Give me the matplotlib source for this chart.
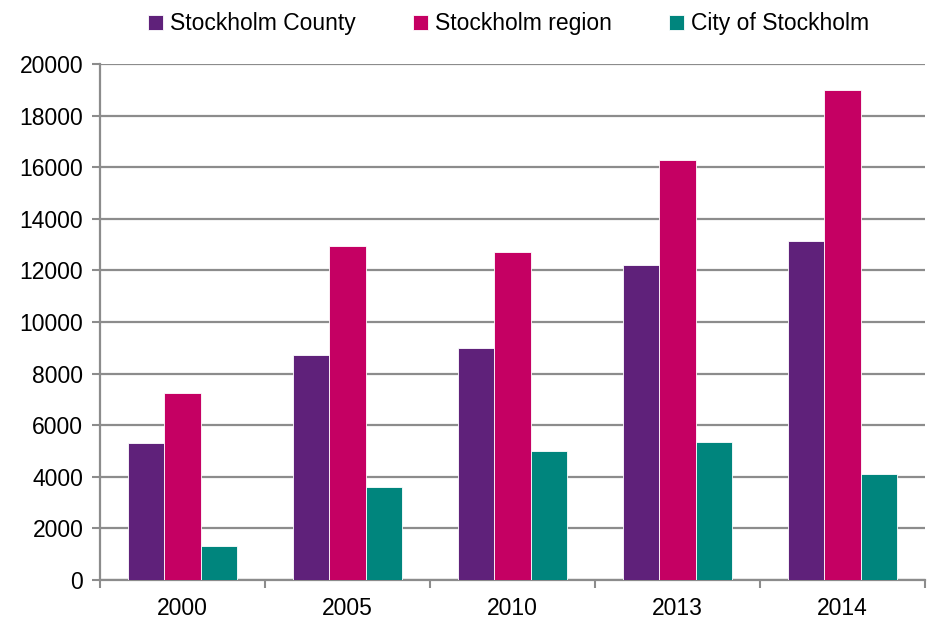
import numpy as np
import matplotlib
matplotlib.use('Agg')
import matplotlib.pyplot as plt
from matplotlib.ticker import FixedLocator

plt.rcParams['font.family'] = ['Liberation Sans', 'DejaVu Sans']

years = ['2000', '2005', '2010', '2013', '2014']
county = [5300, 8710, 9000, 12200, 13150]
region = [7240, 12950, 12720, 16260, 18990]
city = [1310, 3620, 4990, 5350, 4100]

series = [('Stockholm County', county, '#5F217A'),
          ('Stockholm region', region, '#C50063'),
          ('City of Stockholm', city, '#00857D')]

fig = plt.figure(figsize=(9.28, 6.21), dpi=100)
ax = fig.add_axes([100/928, 1-580/621, 825/928, 516/621])

x = np.arange(len(years))
w = 0.22
for i, (name, vals, col) in enumerate(series):
    ax.bar(x + (i-1)*w, vals, w, color=col, edgecolor='white', linewidth=0.6,
           label=name, zorder=3)

ax.set_ylim(0, 20000)
ax.set_xlim(-0.5, len(years)-0.5)
ax.set_yticks(np.arange(0, 20001, 2000))
ax.yaxis.grid(True, color='#8c8c8c', linewidth=1.6, zorder=0)
ax.set_axisbelow(True)

ax.set_xticks(x)
ax.set_xticklabels(years)
ax.xaxis.set_minor_locator(FixedLocator(np.arange(-0.5, len(years), 1)))
ax.tick_params(axis='x', which='major', length=0, pad=12, labelsize=16.5)
ax.tick_params(axis='x', which='minor', length=6, width=1.5, color='#8c8c8c')
ax.tick_params(axis='y', length=6, width=1.5, color='#8c8c8c', labelsize=16.5, pad=6)

for s in ['top', 'right']:
    ax.spines[s].set_visible(False)
for s in ['left', 'bottom']:
    ax.spines[s].set_color('#8c8c8c')
    ax.spines[s].set_linewidth(1.6)

ax.legend(loc='upper center', bbox_to_anchor=(0.495, 1.14), ncol=3, frameon=False,
          fontsize=16.5, handlelength=0.65, handleheight=0.65, handletextpad=0.3,
          columnspacing=2.5)

fig.savefig('out.png', dpi=100)
plt.close()
